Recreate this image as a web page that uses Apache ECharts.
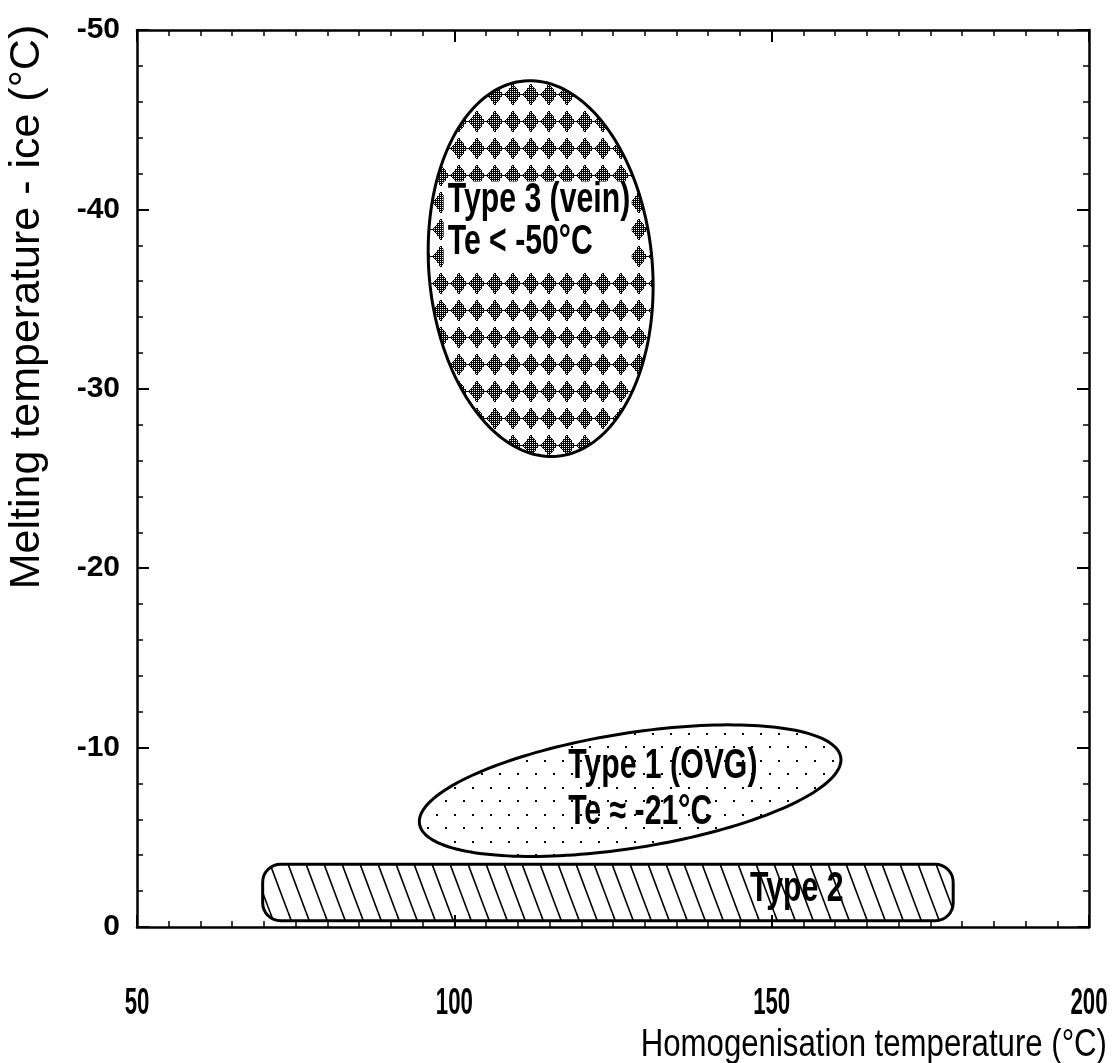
<!DOCTYPE html>
<html>
<head>
<meta charset="utf-8">
<title>Fluid inclusion types</title>
<script src="https://cdn.jsdelivr.net/npm/echarts@6/dist/echarts.min.js"></script>
<style>
  html, body { margin: 0; padding: 0; background: #fff; }
  #main { width: 1112px; height: 1063px; }
</style>
</head>
<body>
<div id="main"></div>
<script>
// axis ticks
const xTicks = [50, 100, 150, 200];
const yTicks = [0, -10, -20, -30, -40, -50];

// ellipse fields: centre Th, centre Tm, half-width (Th units), half-height (Tm units), tilt (deg)
const ellipseNames = ['Type 3 (vein)', 'Type 1 (OVG)'];
const ellipseTh = [113.6, 127.7];
const ellipseTm = [-36.7, -7.6];
const ellipseHalfTh = [17.6, 33.6];
const ellipseHalfTm = [10.5, 3.2];
const ellipseTilt = [-5, -9];

// Type 2 band: Th range, Tm range
const bandName = 'Type 2';
const bandTh = [69.8, 178.6];
const bandTm = [-0.35, -3.5];

const labelLines = {
  'Type 3 (vein)': ['Type 3 (vein)', 'Te < -50°C'],
  'Type 1 (OVG)': ['Type 1 (OVG)', 'Te ≈ -21°C'],
  'Type 2': ['Type 2']
};

const SANS = '"Liberation Sans", Arial, sans-serif';
const LABEL_FONT = 'bold 42px ' + SANS;
const CONDENSE = 0.72; // no narrow face installed, squeeze the regular one

// --- fill patterns ---
function makeCanvas(w, h) {
  const c = document.createElement('canvas');
  c.width = w; c.height = h;
  return c;
}
function diamondTile() {
  const c = makeCanvas(18, 27), ctx = c.getContext('2d');
  ctx.fillStyle = '#000';
  for (let y = 0; y < 27; y++) {
    for (let x = 0; x < 18; x++) {
      const d = Math.abs(x + 0.5 - 9) / 8.5 + Math.abs(y + 0.5 - 13.5) / 11;
      if (d <= 1 && !(x % 2 === 0 && y % 2 === 0)) ctx.fillRect(x, y, 1, 1);
    }
  }
  return c;
}
function dotTile() {
  const c = makeCanvas(18, 27), ctx = c.getContext('2d');
  ctx.fillStyle = '#000';
  ctx.fillRect(4, 4, 2, 2);
  ctx.fillRect(13, 17, 2, 2);
  return c;
}
function hatchTile() {
  const c = makeCanvas(18, 48), ctx = c.getContext('2d');
  ctx.strokeStyle = '#000';
  ctx.lineWidth = 1.6;
  for (let k = -1; k <= 1; k++) {
    ctx.beginPath();
    ctx.moveTo(k * 18, 0);
    ctx.lineTo(k * 18 + 18, 48);
    ctx.stroke();
  }
  return c;
}
const patterns = {
  'Type 3 (vein)': { image: diamondTile(), repeat: 'repeat' },
  'Type 1 (OVG)': { image: dotTile(), repeat: 'repeat' },
  'Type 2': { image: hatchTile(), repeat: 'repeat' }
};

// label placement relative to the shape centre (px)
const labelPlace = {
  'Type 3 (vein)': { dx: -93, dy: [-68, -26], box: [-97, -87, 188, 86] },
  'Type 1 (OVG)': { dx: -62, dy: [-24, 22] },
  'Type 2': { dx: 142, dy: [-3] }
};

function labelGroup(name, cx, cy) {
  const p = labelPlace[name];
  const kids = [];
  if (p.box) {
    kids.push({
      type: 'rect',
      shape: { x: cx + p.box[0], y: cy + p.box[1], width: p.box[2], height: p.box[3] },
      style: { fill: '#fff' }
    });
  }
  kids.push({
    type: 'group',
    x: cx + p.dx,
    y: cy,
    scaleX: CONDENSE,
    children: labelLines[name].map((s, j) => ({
      type: 'text',
      x: 0,
      y: p.dy[j],
      style: { text: s, font: LABEL_FONT, fill: '#000', align: 'left', verticalAlign: 'middle' }
    }))
  });
  return kids;
}

function renderEllipse(params, api) {
  const name = ellipseNames[params.dataIndex];
  const c = api.coord([api.value(0), api.value(1)]);
  const rx = Math.abs(api.size([api.value(2), 0])[0]);
  const ry = Math.abs(api.size([0, api.value(3)])[1]);
  const t = api.value(4) * Math.PI / 180;
  const pts = [];
  for (let k = 0; k < 180; k++) {
    const a = k / 180 * Math.PI * 2;
    const ex = rx * Math.cos(a), ey = ry * Math.sin(a);
    pts.push([c[0] + ex * Math.cos(t) - ey * Math.sin(t), c[1] + ex * Math.sin(t) + ey * Math.cos(t)]);
  }
  return {
    type: 'group',
    children: [
      { type: 'polygon', shape: { points: pts }, style: { fill: patterns[name], stroke: '#000', lineWidth: 3 } }
    ].concat(labelGroup(name, c[0], c[1]))
  };
}

function renderBand(params, api) {
  const p0 = api.coord([api.value(0), api.value(3)]);
  const p1 = api.coord([api.value(1), api.value(2)]);
  const x = Math.min(p0[0], p1[0]), y = Math.min(p0[1], p1[1]);
  const w = Math.abs(p1[0] - p0[0]), h = Math.abs(p1[1] - p0[1]);
  return {
    type: 'group',
    children: [
      { type: 'rect', shape: { x: x, y: y, width: w, height: h, r: 18 },
        style: { fill: patterns[bandName], stroke: '#000', lineWidth: 3 } }
    ].concat(labelGroup(bandName, x + w / 2, y + h / 2))
  };
}

const axisLine = { show: true, onZero: false, lineStyle: { color: '#000', width: 2.5 } };
const axisTick = { show: true, inside: true, length: 12, lineStyle: { color: '#000', width: 2 } };
function minor(n) {
  return { show: true, splitNumber: n, length: 6, lineStyle: { color: '#000', width: 1.5 } };
}

function xAxisAt(pos) {
  return {
    type: 'value', position: pos,
    min: xTicks[0], max: xTicks[xTicks.length - 1], interval: 50,
    axisLine: axisLine, axisTick: axisTick, minorTick: minor(10),
    splitLine: { show: false },
    axisLabel: { show: false }
  };
}
function yAxisAt(pos, labels) {
  return {
    type: 'value', position: pos, inverse: true,
    min: yTicks[yTicks.length - 1], max: yTicks[0], interval: 10,
    axisLine: axisLine, axisTick: axisTick, minorTick: minor(5),
    splitLine: { show: false },
    axisLabel: labels
      ? { margin: 17, color: '#000', fontFamily: SANS, fontWeight: 'bold', fontSize: 30 }
      : { show: false }
  };
}

const chart = echarts.init(document.getElementById('main'));
chart.setOption({
  animation: false,
  backgroundColor: '#fff',
  grid: { left: 137, right: 23, top: 30, bottom: 136 },
  xAxis: [xAxisAt('bottom'), xAxisAt('top')],
  yAxis: [yAxisAt('left', true), yAxisAt('right', false)],
  series: [
    {
      type: 'custom', name: bandName, xAxisIndex: 0, yAxisIndex: 0,
      renderItem: renderBand,
      data: [[bandTh[0], bandTh[1], bandTm[0], bandTm[1]]]
    },
    {
      type: 'custom', name: 'ellipses', xAxisIndex: 0, yAxisIndex: 0,
      renderItem: renderEllipse,
      data: ellipseTh.map((x, i) => [x, ellipseTm[i], ellipseHalfTh[i], ellipseHalfTm[i], ellipseTilt[i]])
    }
  ]
});

// condensed x tick labels and the two axis titles
const xLabelEls = xTicks.map(v => ({
  type: 'text',
  x: chart.convertToPixel({ xAxisIndex: 0 }, v),
  y: 1004,
  scaleX: 0.6,
  style: { text: String(v), font: 'bold 37px ' + SANS, fill: '#000', align: 'center', verticalAlign: 'middle' }
}));
chart.setOption({
  graphic: xLabelEls.concat([
    {
      type: 'text', x: 27, y: 307, rotation: Math.PI / 2,
      style: { text: 'Melting temperature - ice (°C)', font: '43px ' + SANS,
        fill: '#000', align: 'center', verticalAlign: 'middle' }
    },
    {
      type: 'text', x: 1107, y: 1046, scaleX: 0.82,
      style: { text: 'Homogenisation temperature (°C)', font: '38px ' + SANS,
        fill: '#000', align: 'right', verticalAlign: 'middle' }
    }
  ])
});
</script>
</body>
</html>
